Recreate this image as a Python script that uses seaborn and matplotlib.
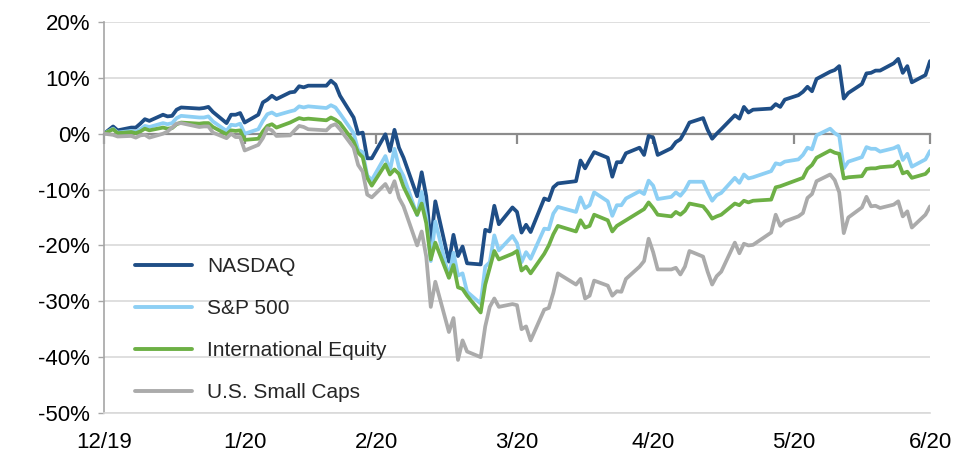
import matplotlib
matplotlib.use("Agg")
import matplotlib.pyplot as plt
from matplotlib.ticker import FuncFormatter
import numpy as np
import pandas as pd
import seaborn as sns

# ---------------- data (cumulative total return, %) ----------------
holidays = ["2020-01-01", "2020-01-20", "2020-02-17", "2020-04-10", "2020-05-25"]

nasdaq = [0.0,
    1.3, 0.6, 1.1, 1.1, 1.8, 2.6, 2.3, 3.4, 3.1, 3.2, 4.3, 4.7, 4.5, 4.6, 4.8, 3.9, 1.9, 3.4, 3.4, 3.7, 2.0,
    3.4, 5.6, 6.1, 6.8, 6.2, 7.4, 7.5, 8.5, 8.3, 8.6, 8.6, 9.5, 8.8, 6.8, 2.9, 0.0, 0.2, -4.4, -4.4,
    -0.1, -3.1, 0.7, -2.5, -4.3, -11.2, -6.9, -11.2, -19.6, -12.1, -22.9, -18.1, -21.9, -20.2, -23.2, -23.4, -17.2, -17.5, -12.9, -16.2, -13.2, -14.0,
    -17.7, -16.3, -17.6, -11.6, -11.9, -9.6, -8.9, -8.5, -4.8, -6.2, -4.7, -3.3, -4.3, -7.7, -5.1, -5.1, -3.5, -2.5, -3.8, -0.4, -0.7,
    -3.8, -2.6, -1.5, -1.0, 0.4, 2.0, 2.8, 0.7, -0.9, 0.0, 0.8, 3.3, 2.7, 4.8, 3.8, 4.3, 4.5, 5.3, 4.8, 6.1,
    6.9, 7.5, 8.4, 7.6, 9.8, 11.1, 11.4, 12.1, 6.3, 7.3, 8.9, 10.8, 10.9, 11.3, 11.3, 12.6, 13.4, 10.9, 12.1, 9.2, 10.5, 13.0]

sp500 = [0.0,
    0.9, 0.2, 0.5, 0.3, 0.8, 1.4, 1.2, 1.9, 1.7, 1.9, 2.8, 3.2, 2.9, 2.9, 3.1, 2.2, 0.5, 1.6, 1.5, 1.8, 0.0,
    0.8, 2.3, 3.5, 3.8, 3.3, 4.0, 4.2, 4.9, 4.7, 4.9, 4.6, 5.1, 4.7, 3.6, 0.1, -2.9, -3.3, -7.5, -8.3,
    -4.0, -6.6, -2.7, -6.0, -7.6, -14.6, -10.4, -14.8, -22.8, -15.7, -25.7, -21.3, -25.4, -25.0, -28.3, -30.4, -23.8, -23.0, -18.2, -20.9, -18.3, -19.6,
    -23.0, -21.2, -22.4, -17.0, -17.1, -14.3, -13.1, -14.0, -11.4, -13.3, -12.8, -10.5, -12.1, -14.7, -12.8, -12.8, -11.6, -10.3, -10.8, -8.4, -9.3,
    -11.7, -11.3, -10.5, -11.1, -10.1, -8.6, -8.6, -10.4, -12.0, -11.0, -10.6, -7.9, -8.8, -7.3, -8.0, -7.8, -6.7, -5.3, -5.5, -5.0,
    -4.6, -3.8, -2.5, -2.8, -0.3, 0.9, 0.1, -0.4, -6.2, -5.0, -4.2, -2.4, -2.7, -2.7, -3.2, -2.6, -2.2, -4.7, -3.6, -5.9, -4.6, -3.1]

intl_equity = [0.0,
    0.8, 0.1, 0.3, 0.1, 0.4, 0.9, 0.6, 1.1, 0.9, 1.0, 1.7, 2.0, 1.8, 1.9, 1.9, 1.2, -0.1, 0.6, 0.5, 0.6, -1.1,
    -0.9, 0.4, 1.4, 1.7, 1.1, 2.0, 2.4, 2.8, 2.6, 2.7, 2.4, 2.9, 2.5, 1.9, -1.4, -3.4, -4.2, -7.9, -9.3,
    -5.5, -7.3, -6.4, -7.2, -9.5, -14.5, -12.5, -16.0, -22.5, -19.5, -25.8, -23.5, -27.5, -27.8, -29.0, -32.0, -27.0, -24.0, -21.0, -22.5, -21.5, -21.0,
    -24.5, -23.8, -25.0, -21.5, -20.0, -18.0, -16.5, -17.5, -15.5, -16.8, -16.5, -14.5, -15.5, -17.5, -16.5, -16.0, -15.5, -14.0, -13.5, -12.3, -13.3,
    -14.5, -14.8, -14.0, -14.5, -13.8, -12.5, -13.0, -14.0, -15.2, -14.8, -14.5, -12.5, -12.8, -12.0, -12.3, -12.0, -11.8, -9.6, -9.4, -9.1,
    -8.2, -7.9, -6.3, -5.6, -4.3, -3.0, -3.4, -3.6, -8.0, -7.8, -7.6, -6.3, -6.2, -6.2, -6.0, -5.8, -5.0, -7.1, -6.8, -7.9, -7.2, -6.3]

small_caps = [0.0,
    -0.2, -0.5, -0.4, -0.7, -0.3, -0.2, -0.7, 0.0, 0.4, 1.1, 1.8, 1.9, 1.2, 1.3, 1.3, 0.2, -0.8, 0.0, -0.6, -0.6, -3.0,
    -2.0, -0.8, 1.0, 0.6, -0.4, -0.3, 0.6, 1.4, 1.2, 0.8, 0.6, 1.4, 1.7, 0.8, -2.5, -5.6, -6.8, -10.9, -11.4,
    -9.0, -10.5, -8.5, -11.5, -13.0, -20.0, -17.5, -22.0, -31.0, -26.5, -35.5, -33.0, -40.5, -37.0, -39.0, -40.0, -34.5, -31.0, -29.5, -31.0, -30.5, -30.7,
    -35.0, -34.5, -37.0, -31.5, -31.2, -28.5, -25.0, -27.0, -26.0, -29.5, -29.0, -26.3, -27.2, -29.0, -28.2, -28.3, -26.0, -23.8, -22.8, -18.8, -21.2,
    -24.3, -24.3, -24.0, -25.2, -23.8, -21.0, -22.0, -24.7, -27.0, -25.5, -24.7, -19.5, -21.4, -19.7, -20.0, -19.9, -17.7, -14.5, -16.5, -15.7,
    -14.8, -14.2, -11.5, -10.8, -8.5, -7.3, -8.3, -10.5, -17.8, -15.0, -13.2, -11.3, -13.0, -12.9, -13.3, -12.7, -12.1, -14.8, -13.9, -16.8, -14.5, -13.0]

series_names = ["NASDAQ", "S&P 500", "International Equity", "U.S. Small Caps"]
series_colors = ["#1F4E86", "#8DCFF4", "#6DB045", "#ABABAB"]

tick_dates = ["2019-12-31", "2020-01-31", "2020-02-29", "2020-03-31",
              "2020-04-30", "2020-05-31", "2020-06-30"]
tick_labels = ["12/19", "1/20", "2/20", "3/20", "4/20", "5/20", "6/20"]
y_ticks = [-50, -40, -30, -20, -10, 0, 10, 20]

# ---------------- build table ----------------
dates = pd.bdate_range("2019-12-31", "2020-06-30")
dates = dates[~dates.isin(pd.to_datetime(holidays))]
frames = []
for name, vals in zip(series_names, [nasdaq, sp500, intl_equity, small_caps]):
    frames.append(pd.DataFrame({"date": dates, "value": vals, "series": name}))
df = pd.concat(frames, ignore_index=True)

# ---------------- plot ----------------
sns.set_theme(style="white")
plt.rcParams["font.family"] = ["Liberation Sans", "DejaVu Sans"]

fig = plt.figure(figsize=(9.76, 4.62), dpi=100)
ax = fig.add_axes([104 / 976, 1 - 413 / 462, (930 - 104) / 976, (413 - 22) / 462])

sns.lineplot(data=df, x="date", y="value", hue="series", hue_order=series_names,
             palette=dict(zip(series_names, series_colors)), linewidth=2.7,
             ax=ax, legend=True)

ax.set_ylim(-50, 20)
ax.set_yticks(y_ticks)
ax.yaxis.set_major_formatter(FuncFormatter(lambda v, p: f"{v:.0f}%"))
ax.set_xlim(pd.Timestamp(tick_dates[0]), pd.Timestamp(tick_dates[-1]))
ax.set_xticks(pd.to_datetime(tick_dates))
ax.set_xticklabels(tick_labels)
ax.set_xlabel("")
ax.set_ylabel("")

ax.yaxis.grid(True, color="#d9d9d9", linewidth=1.2)
ax.xaxis.grid(False)
ax.set_axisbelow(True)

# zero line with month ticks hanging below it (top spine moved to 0)
ax.spines["top"].set_position(("data", 0))
ax.spines["top"].set_color("#8c8c8c")
ax.spines["top"].set_linewidth(1.6)
ax.spines["top"].set_zorder(1.5)
ax.spines["right"].set_visible(False)
ax.spines["bottom"].set_color("#d9d9d9")
ax.spines["bottom"].set_linewidth(1.2)
ax.spines["left"].set_color("#a6a6a6")
ax.spines["left"].set_linewidth(1.2)

ax.tick_params(axis="x", which="major", top=True, bottom=False, direction="in",
               length=7, width=1.6, color="#8c8c8c", labeltop=False, labelbottom=True,
               labelsize=16, labelcolor="#000000", pad=14)
ax.tick_params(axis="y", which="major", left=True, length=4, width=1.0, color="#a6a6a6",
               labelsize=16, labelcolor="#000000", pad=6)

leg = ax.legend(loc="upper left", bbox_to_anchor=(0.028, 0.42), frameon=False,
                fontsize=15, handlelength=2.7, handletextpad=0.75, labelspacing=1.1,
                borderaxespad=0)
for line in leg.get_lines():
    line.set_linewidth(2.8)

fig.savefig("out.png", dpi=100)
